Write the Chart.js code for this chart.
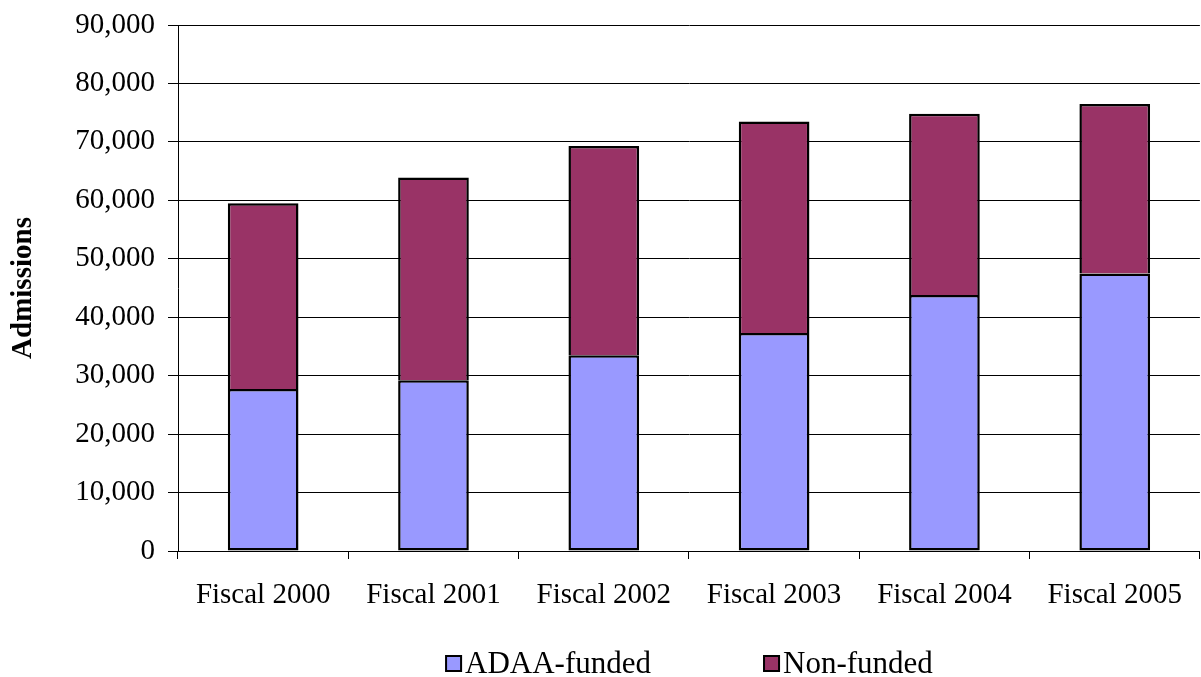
<!DOCTYPE html>
<html>
<head>
<meta charset="utf-8">
<script src="https://cdn.jsdelivr.net/npm/chart.js@4.4.1/dist/chart.umd.min.js"></script>
<style>
  html, body { margin: 0; padding: 0; background: #fff; }
  #wrap { width: 1201px; height: 677px; }
</style>
</head>
<body>
<div id="wrap"><canvas id="c" width="1201" height="677"></canvas></div>
<script>
// Admissions per fiscal year, split by funding source
const categories = ['Fiscal 2000', 'Fiscal 2001', 'Fiscal 2002', 'Fiscal 2003', 'Fiscal 2004', 'Fiscal 2005'];
const adaaFunded = [27700, 29200, 33500, 37300, 43800, 47500];
const nonFunded  = [31800, 34700, 35800, 36200, 31000, 29000];
const seriesNames = ['ADAA-funded', 'Non-funded'];
const yTicks = [0, 10000, 20000, 30000, 40000, 50000, 60000, 70000, 80000, 90000];

const FONT = 'Liberation Serif, "Times New Roman", serif';
const FS = 29;

// Legend drawn below the axis: small bordered squares followed by the series name
const bottomLegend = {
  id: 'bottomLegend',
  afterDraw(chart) {
    const ctx = chart.ctx;
    const area = chart.chartArea;
    const box = 17, gapText = 3, gapItem = 112;
    ctx.save();
    ctx.font = '31px ' + FONT;
    const items = chart.data.datasets.map(ds => ({
      label: ds.label, color: ds.backgroundColor, w: ctx.measureText(ds.label).width
    }));
    const total = items.reduce((s, it) => s + box + gapText + it.w, 0) + gapItem * (items.length - 1);
    let x = (area.left + area.right) / 2 - total / 2;
    const cy = 663.5;
    items.forEach(it => {
      ctx.fillStyle = it.color;
      ctx.fillRect(x, cy - box / 2, box, box);
      ctx.strokeStyle = '#000';
      ctx.lineWidth = 2;
      ctx.strokeRect(x + 1, cy - box / 2 + 1, box - 2, box - 2);
      ctx.fillStyle = '#000';
      ctx.textBaseline = 'middle';
      ctx.textAlign = 'left';
      ctx.fillText(it.label, x + box + gapText, cy + 1);
      x += box + gapText + it.w + gapItem;
    });
    ctx.restore();
  }
};

new Chart(document.getElementById('c'), {
  type: 'bar',
  data: {
    labels: categories,
    datasets: [
      {
        label: seriesNames[0],
        data: adaaFunded,
        backgroundColor: '#9999FF',
        borderColor: '#000',
        borderWidth: 2.5,
        borderSkipped: false,
        barPercentage: 0.415,
        categoryPercentage: 1.0
      },
      {
        label: seriesNames[1],
        data: nonFunded,
        backgroundColor: '#993366',
        borderColor: '#000',
        borderWidth: 2.5,
        borderSkipped: 'start',
        barPercentage: 0.415,
        categoryPercentage: 1.0
      }
    ]
  },
  options: {
    responsive: false,
    animation: false,
    devicePixelRatio: 1,
    layout: { padding: { top: 25, right: 0, bottom: 50, left: 0 } },
    plugins: {
      legend: { display: false },
      tooltip: { enabled: false }
    },
    scales: {
      x: {
        stacked: true,
        offset: true,
        grid: {
          offset: true,
          drawOnChartArea: false,
          drawTicks: true,
          tickLength: 8,
          color: '#000',
          lineWidth: 1
        },
        border: { display: true, color: '#000', width: 1 },
        ticks: {
          color: '#000',
          font: { family: FONT, size: FS },
          padding: 19,
          maxRotation: 0,
          autoSkip: false
        },
        afterFit(scale) { scale.height = 76; }
      },
      y: {
        stacked: true,
        min: 0,
        max: 90000,
        afterBuildTicks(scale) { scale.ticks = yTicks.map(v => ({ value: v })); },
        grid: {
          color: '#000',
          lineWidth: 1,
          tickLength: 10,
          drawTicks: true
        },
        border: { display: true, color: '#000', width: 1 },
        ticks: {
          color: '#000',
          font: { family: FONT, size: FS },
          padding: 13,
          callback: v => v.toLocaleString('en-US')
        },
        title: {
          display: true,
          text: 'Admissions',
          color: '#000',
          font: { family: FONT, size: FS, weight: 'bold' },
          padding: { top: 6, bottom: 0 }
        },
        afterFit(scale) {
          scale.width = 178;
          scale.paddingTop = 0;
          scale.paddingBottom = 0;
        }
      }
    }
  },
  plugins: [bottomLegend]
});
</script>
</body>
</html>
